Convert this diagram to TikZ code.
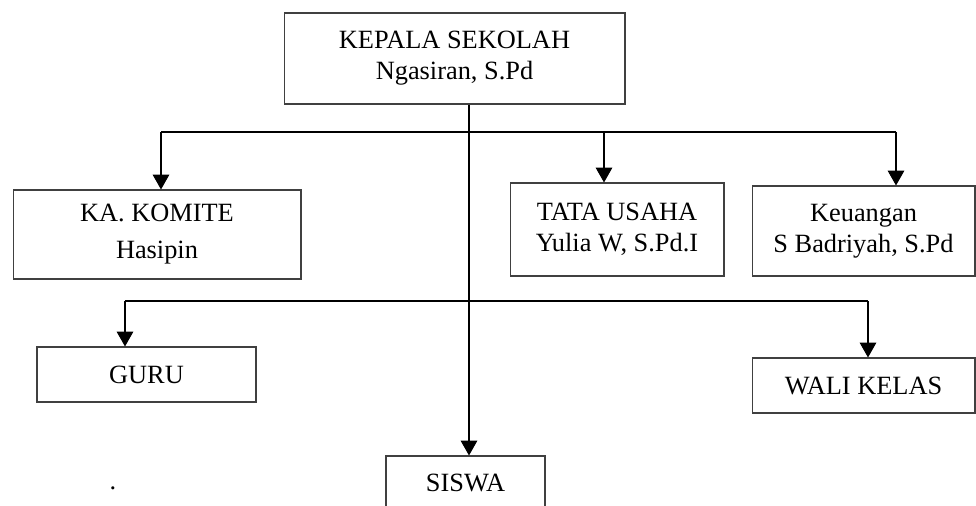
\documentclass[tikz,border=0pt]{standalone}
\usepackage{fontspec}
\setmainfont{Liberation Serif}
\usetikzlibrary{arrows.meta}

\begin{document}
\begin{tikzpicture}[
            x=0.02cm, y=-0.02cm,
            every node/.style={ font=\fontsize{15}{17.6}\selectfont, align=center },
            box/.style={ draw=black!75, line width=0.6pt, inner sep=0pt },
            line/.style={ line width=0.6pt },
            arr/.style={ line width=0.6pt, -{Triangle[width=9.5pt,length=8.5pt]} }
        ]
        \useasboundingbox (0,0) rectangle (976,506);

        \node[box, minimum width=68.2mm, minimum height=18.2mm] (kepala) at (454.5,58.5) {KEPALA SEKOLAH\\Ngasiran, S.Pd};
        \node[box, minimum width=57.6mm, minimum height=17.8mm] (komite) at (157,234.5) {KA. KOMITE\\[3.4pt]Hasipin};
        \node[box, minimum width=42.8mm, minimum height=18.6mm] (tu) at (617,229.5) {TATA USAHA\\Yulia W, S.Pd.I};
        \node[box, minimum width=44.6mm, minimum height=18mm] (keu) at (863.5,231) {Keuangan\\S Badriyah, S.Pd};
        \node[box, minimum width=43.8mm, minimum height=11mm] (guru) at (146.5,374.5) {GURU};
        \node[box, minimum width=44.6mm, minimum height=11mm] (wali) at (863.5,385.5) {WALI KELAS};
        \node[box, minimum width=31.8mm, minimum height=10.6mm] (siswa) at (465.5,482.5) {SISWA};
        \node[anchor=base] (titik) at (113,489) {.};

        \coordinate (b1) at (161,132);
        \coordinate (b2) at (469,132);
        \coordinate (b3) at (604,132);
        \coordinate (b4) at (896,132);
        \coordinate (c1) at (125,301);
        \coordinate (c2) at (868,301);

        \draw[line] (b1) -- (b4);
        \draw[arr] (b1) -- (b1 |- komite.north);
        \draw[arr] (b3) -- (b3 |- tu.north);
        \draw[arr] (b4) -- (b4 |- keu.north);
        \draw[arr] (kepala.south -| b2) -- (siswa.north -| b2);

        \draw[line] (c1) -- (c2);
        \draw[arr] (c1) -- (c1 |- guru.north);
        \draw[arr] (c2) -- (c2 |- wali.north);
    \end{tikzpicture}
\end{document}
